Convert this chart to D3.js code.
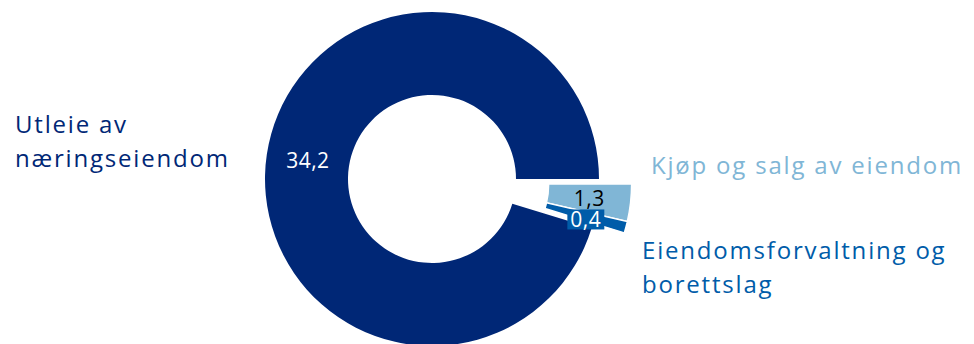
<!DOCTYPE html>
<html lang="no">
<head>
    <meta charset="UTF-8">
    <title>Eiendomsdrift</title>
    <script src="https://d3js.org/d3.v7.min.js"></script>
    <style>
        body { margin: 0; background: #fff; }
        svg text { font-family: "Open Sans", sans-serif; }
        .cat { font-size: 24px; letter-spacing: 1.8px; }
        .val { font-size: 21px; letter-spacing: 0.5px; }
    </style>
</head>
<body>
    <div id="chart"></div>
    <script>
        // data, in drawing order (clockwise from 3 o'clock)
        const categories = ["Kjøp og salg av eiendom", "Eiendomsforvaltning og borettslag", "Utleie av næringseiendom"];
        const values = [1.3, 0.4, 34.2];
        const colors = ["#80b6d6", "#005ca9", "#002776"];
        const labelColors = ["#000000", "#ffffff", "#ffffff"];
        const exploded = [true, true, false];

        const width = 974, height = 344;
        const cx = 432, cy = 179;
        const outerR = 167, innerR = 84, explodeBy = 33;

        const fmt = d3.formatLocale({decimal: ",", thousands: " ", grouping: [3], currency: ["", ""]}).format(".1f");

        const svg = d3.select("#chart").append("svg")
            .attr("width", width)
            .attr("height", height);

        const pie = d3.pie().sort(null)
            .startAngle(Math.PI / 2)
            .endAngle(Math.PI / 2 + 2 * Math.PI);
        const arcs = pie(values);

        const arc = d3.arc().innerRadius(innerR).outerRadius(outerR);
        const labelArc = d3.arc().innerRadius((innerR + outerR) / 2).outerRadius((innerR + outerR) / 2);

        // exploded slices move together along the middle of their group
        const ex = arcs.filter((d, i) => exploded[i]);
        const exMid = (d3.min(ex, d => d.startAngle) + d3.max(ex, d => d.endAngle)) / 2;
        const offset = i => exploded[i]
            ? [explodeBy * Math.sin(exMid), -explodeBy * Math.cos(exMid)]
            : [0, 0];

        const g = svg.append("g")
            .attr("transform", "translate(" + cx + "," + cy + ")");

        g.selectAll("path.slice")
            .data(arcs)
            .enter().append("path")
            .attr("class", "slice")
            .attr("transform", (d, i) => "translate(" + offset(i) + ")")
            .attr("d", arc)
            .attr("fill", (d, i) => colors[i])
            .attr("stroke", "#fff")
            .attr("stroke-width", (d, i) => exploded[i] ? 1.5 : 0);

        // value labels on top of all slices (small ones nudged apart like in the original)
        const nudge = [1, 3, 0];
        const labels = g.append("g").attr("class", "labels");
        arcs.forEach((d, i) => {
            const c = labelArc.centroid(d);
            const o = offset(i);
            const x = c[0] + o[0];
            const y = c[1] + o[1] + nudge[i];
            const lg = labels.append("g");
            const t = lg.append("text")
                .attr("class", "val")
                .attr("x", x)
                .attr("y", y)
                .attr("dy", ".35em")
                .attr("text-anchor", "middle")
                .attr("fill", labelColors[i])
                .text(fmt(d.data));
            // the thin slice gets a filled box behind its label
            if (i === 1) {
                const w = t.node().getComputedTextLength();
                lg.insert("rect", "text")
                    .attr("x", x - w / 2 - 3)
                    .attr("y", y - 10)
                    .attr("width", w + 6)
                    .attr("height", 20)
                    .attr("fill", colors[i]);
            }
        });

        // category labels
        const catPos = [
            {x: 651, y: 174, lines: ["Kjøp og salg av eiendom"]},
            {x: 642, y: 259, lines: ["Eiendomsforvaltning og", "borettslag"]},
            {x: 15, y: 133, lines: ["Utleie av", "næringseiendom"]}
        ];

        categories.forEach((c, i) => {
            const p = catPos[i];
            const t = svg.append("text")
                .attr("class", "cat")
                .attr("x", p.x)
                .attr("y", p.y)
                .attr("fill", colors[i]);
            p.lines.forEach((line, j) => {
                t.append("tspan")
                    .attr("x", p.x)
                    .attr("dy", j === 0 ? 0 : 34)
                    .text(line);
            });
        });
    </script>
</body>
</html>
